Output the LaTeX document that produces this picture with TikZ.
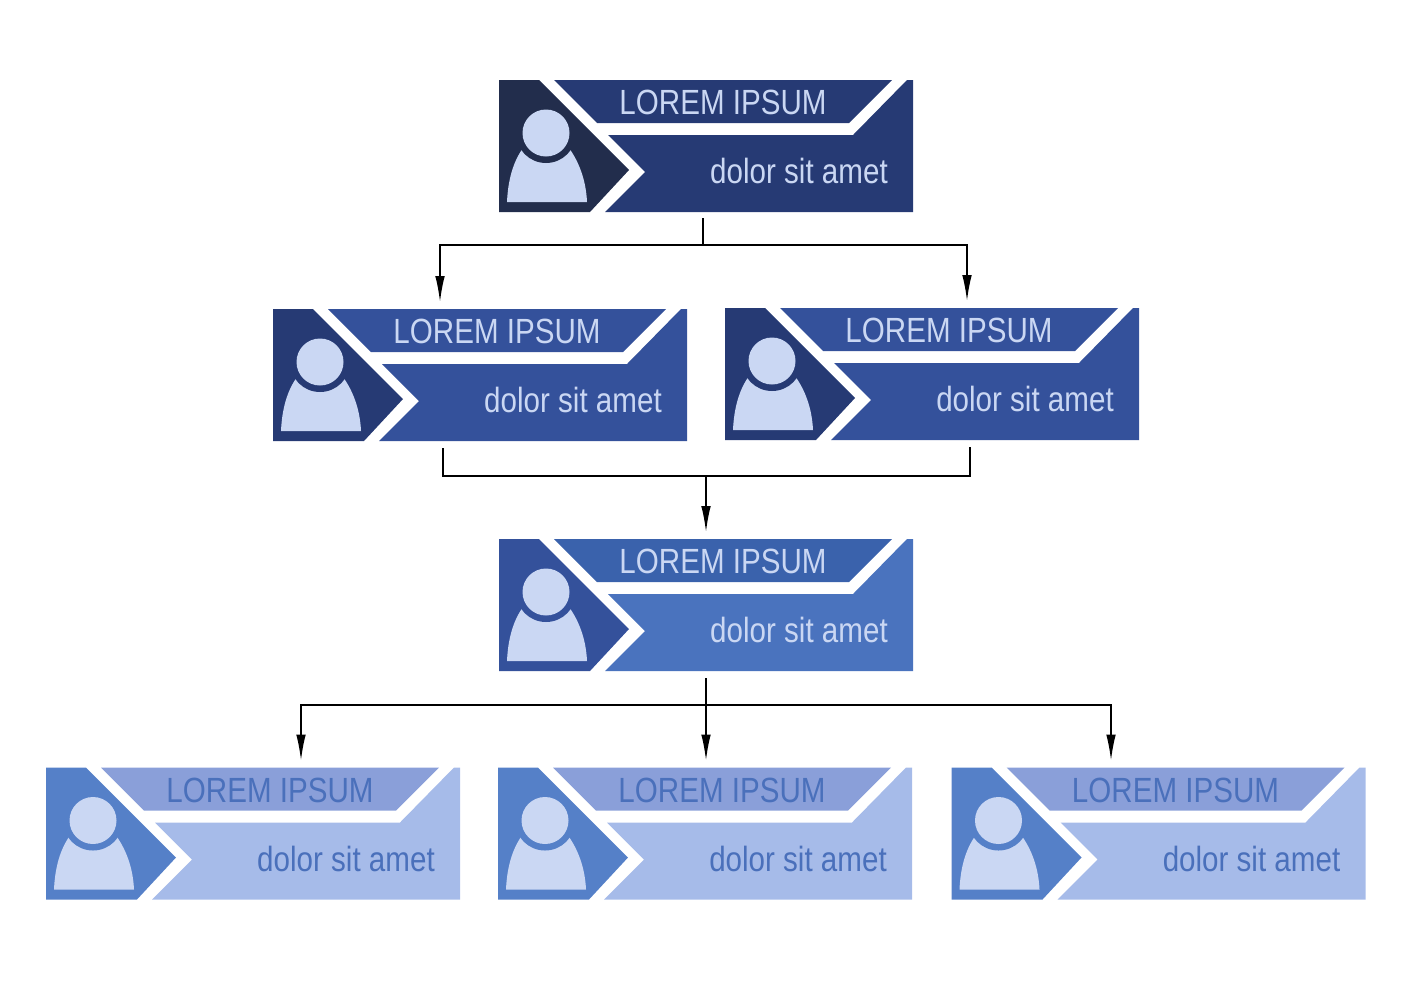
\documentclass[tikz,border=0pt]{standalone}
\usepackage{fontspec}
\setmainfont[FakeStretch=0.845]{Liberation Sans}
\usetikzlibrary{arrows.meta}
\definecolor{navyA}{HTML}{222D4C}
\definecolor{navyB}{HTML}{263A74}
\definecolor{blueA}{HTML}{34519B}
\definecolor{blueB}{HTML}{3A62AC}
\definecolor{blueC}{HTML}{4A73BE}
\definecolor{paleA}{HTML}{5580C8}
\definecolor{paleB}{HTML}{8A9FD9}
\definecolor{paleC}{HTML}{A6BBE9}
\definecolor{ink}{HTML}{4A70BB}
\definecolor{mist}{HTML}{CAD7F3}
\tikzset{
    card/.style = {anchor=north west, minimum width=207pt, minimum height=66pt, inner sep=0pt, outer sep=0pt},
    titletext/.style = {font=\fontsize{17.5}{20}\selectfont},
    subtext/.style = {font=\fontsize{17.5}{20}\selectfont},
    link/.style = {black, line width=0.8pt, line cap=rect},
    arrowlink/.style = {link, -{Latex[length=13pt,width=4.8pt]}, shorten >=3.5pt}
}
% name, x, y, left colour, top colour, main colour, text colour
\newcommand{\orgcard}[7]{
    \node[card] (#1) at (#2,#3) {};
    \begin{scope}[shift={(#2,#3)}]
        \fill[#4] (0,0) -- (40,0) -- (130,90) -- (91,132) -- (0,132) -- cycle;
        \fill[#5] (55,0) -- (393,0) -- (350,43) -- (98,43) -- cycle;
        \fill[#6] (408,0) -- (414,0) -- (414,132) -- (106,132) -- (146,92) -- (109,55) -- (354,55) -- cycle;
        \fill[mist] (8,122) .. controls (9,100) and (14,82) .. (24,68) -- (70,68) .. controls (80,82) and (87,100) .. (88,122) -- cycle;
        \fill[#4] (47,53) circle (30);
        \fill[mist] (47,53) circle (23.5);
        \node[titletext, text=#7] (#1title) at (224,22.5) {LOREM IPSUM};
        \node[subtext, text=#7] (#1sub) at (300,91) {dolor sit amet};
    \end{scope}
}
\begin{document}
\begin{tikzpicture}[x=0.5pt, y=-0.5pt]
    \useasboundingbox (0,0) rectangle (1412,980);

    % Cards
    \orgcard{C0}{499}{80}{navyA}{navyB}{navyB}{mist}
    \orgcard{C1}{273}{309}{navyB}{blueA}{blueA}{mist}
    \orgcard{C2}{725}{308}{navyB}{blueA}{blueA}{mist}
    \orgcard{C3}{499}{539}{blueA}{blueB}{blueC}{mist}
    \orgcard{C4}{46}{767.5}{paleA}{paleB}{paleC}{ink}
    \orgcard{C5}{498}{767.5}{paleA}{paleB}{paleC}{ink}
    \orgcard{C6}{951.5}{767.5}{paleA}{paleB}{paleC}{ink}

    % Junctions
    \coordinate (J0) at (703,245);
    \coordinate (J0a) at (440,245);
    \coordinate (J0b) at (967,245);
    \coordinate (J1a) at (443,476);
    \coordinate (J1b) at (970,476);
    \coordinate (J1) at (706,476);
    \coordinate (J2) at (706,705);
    \coordinate (J2a) at (301,705);
    \coordinate (J2b) at (1111,705);

    % Connectors
    \draw[link, shorten <=3.5pt] (C0.south -| J0) -- (J0);
    \draw[link] (J0a) -- (J0b);
    \draw[arrowlink] (J0a) -- (J0a |- C1.north);
    \draw[arrowlink] (J0b) -- (J0b |- C2.north);

    \draw[link, shorten <=4pt, shorten >=4pt] (J1a |- C1.south) -- (J1a) -- (J1b) -- (J1b |- C2.south);
    \draw[arrowlink] (J1) -- (J1 |- C3.north);

    \draw[link, shorten <=4pt] (C3.south -| J2) -- (J2);
    \draw[link] (J2a) -- (J2b);
    \draw[arrowlink] (J2a) -- (J2a |- C4.north);
    \draw[arrowlink] (J2) -- (J2 |- C5.north);
    \draw[arrowlink] (J2b) -- (J2b |- C6.north);
\end{tikzpicture}
\end{document}
